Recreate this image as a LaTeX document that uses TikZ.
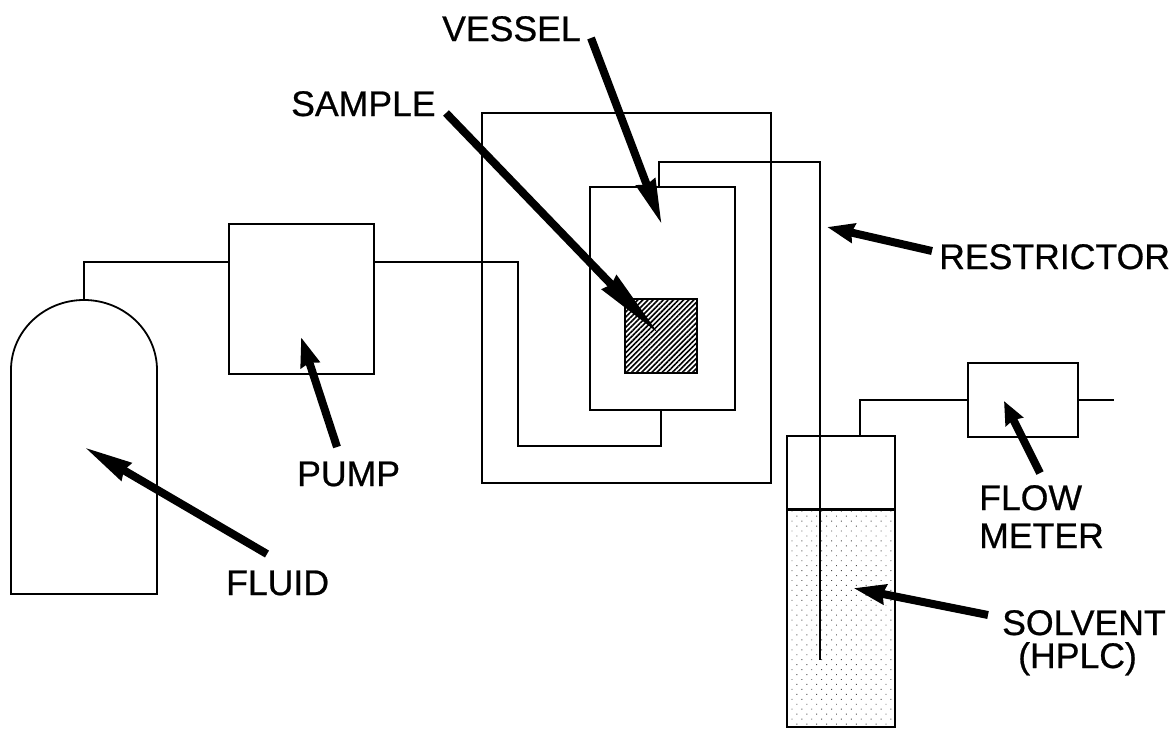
\documentclass[tikz,border=0pt]{standalone}
\usepackage{fontspec}
\setmainfont{Liberation Sans}[RawFeature={embolden=0.7}]
\usetikzlibrary{arrows.meta,patterns.meta}
\tikzset{
  box/.style={draw,line width=1.8pt,inner sep=0pt,outer sep=0pt,anchor=north west},
  pipe/.style={line width=1.8pt},
  tag/.style={inner sep=0pt,anchor=base west,font=\fontsize{35.6}{38}\selectfont},
  pointer/.style={line width=8pt,-{Stealth[length=#1,width=19pt,inset=2pt]}},
}
\begin{document}
\begin{tikzpicture}[x=1pt,y=-1pt]
    \useasboundingbox (0,0) rectangle (1176,729);
    % fluid bottle
    \draw[pipe] (11,370) arc[x radius=73,y radius=70,start angle=180,end angle=360] -- (157,594) -- (11,594) -- cycle;
    \coordinate (bottletop) at (84,300);
    % boxes
    \node[box,minimum width=145pt,minimum height=150pt] (pump) at (229,224) {};
    \node[box,minimum width=289pt,minimum height=370pt] (oven) at (482,113) {};
    \node[box,minimum width=145pt,minimum height=223pt] (vessel) at (590,187) {};
    \node[box,minimum width=72pt,minimum height=74pt,pattern={Lines[angle=45,distance=3.6pt,line width=1.6pt]}] (sample) at (625,299) {};
    \node[box,minimum width=108pt,minimum height=74pt] (trap) at (787,436) {};
    \node[box,minimum width=108pt,minimum height=218pt,pattern={Dots[angle=45,distance=7pt,radius=0.65pt]},pattern color=black!70] (solvent) at (787,509) {};
    \node[box,minimum width=110pt,minimum height=74pt] (meter) at (968,363) {};
    % tubing
    \coordinate (pumpin) at (229,262);
    \coordinate (pumpout) at (374,262);
    \coordinate (vesselin) at (661,410);
    \coordinate (vesselout) at (659,187);
    \coordinate (tubebend) at (820,162);
    \coordinate (tubeend) at (820,660);
    \coordinate (trapout) at (860,436);
    \coordinate (meterin) at (968,400);
    \coordinate (meterout) at (1078,400);
    \coordinate (ventend) at (1114,400);
    \draw[pipe] (bottletop) |- (pumpin);
    \draw[pipe] (pumpout) -| (518,446) -| (vesselin);
    \draw[pipe] (vesselout) |- (tubebend) -- (tubeend);
    \draw[pipe] (trapout) |- (meterin);
    \draw[pipe] (meterout) -- (ventend);
    % labels
    \node[tag] (vessellabel) at (442,41) {VESSEL};
    \node[tag] (samplelabel) at (291,116) {SAMPLE};
    \node[tag] (restrictorlabel) at (939,269) {RESTRICTOR};
    \node[tag] (pumplabel) at (297,486) {PUMP};
    \node[tag] (fluidlabel) at (226,595) {FLUID};
    \node[tag] (flowlabel) at (979,510) {FLOW};
    \node[tag] (meterlabel) at (979,548) {METER};
    \node[tag] (solventlabel) at (1002,635) {SOLVENT};
    \node[tag] (hplclabel) at (1018,668) {(HPLC)};
    % pointers
    \coordinate (vesseltail) at (591,38);
    \coordinate (vesseltip) at (662,225);
    \coordinate (sampletail) at (446,113);
    \coordinate (sampletip) at (660,335);
    \coordinate (restrictortail) at (932,251);
    \coordinate (restrictortip) at (827,227);
    \coordinate (pumptail) at (337,447);
    \coordinate (pumptip) at (301,337);
    \coordinate (fluidtail) at (267,554);
    \coordinate (fluidtip) at (84,447);
    \coordinate (metertail) at (1040,473);
    \coordinate (metertip) at (1004,401);
    \coordinate (solventtail) at (988,615);
    \coordinate (solventtip) at (853,588);
    \foreach \part/\headlen in {vessel/45pt,sample/72pt,restrictor/27pt,pump/29pt,fluid/48pt,meter/23pt,solvent/32pt}
      \draw[pointer=\headlen] (\part tail) -- (\part tip);
\end{tikzpicture}
\end{document}
